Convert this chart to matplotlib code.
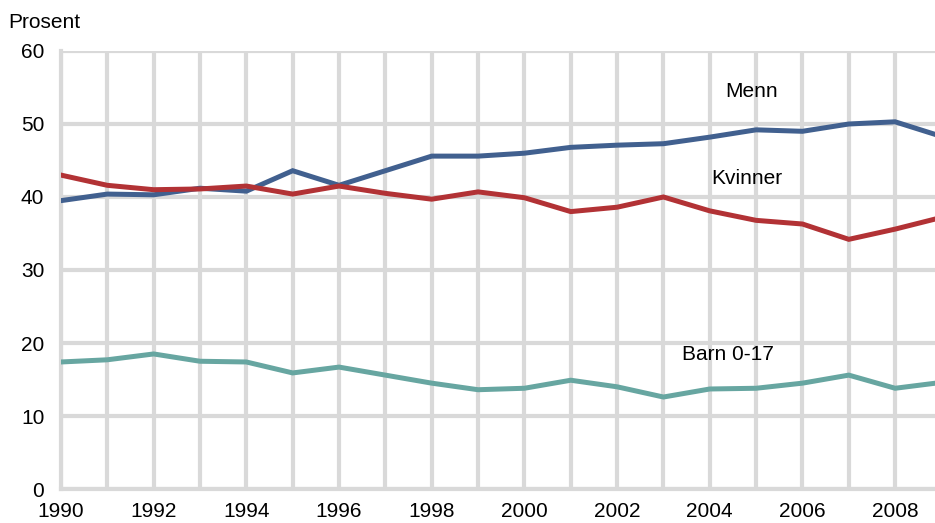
"""
Andel i lavinntektsgruppe: menn, kvinner og barn 1990-2009
"""

import matplotlib.pyplot as plt
import numpy as np

plt.rcParams["font.family"] = ["Liberation Sans", "DejaVu Sans"]

# * Data
years = list(range(1990, 2010))
menn = [39.5, 40.4, 40.3, 41.2, 40.8, 43.6, 41.6, 43.6, 45.6, 45.6,
        46.0, 46.8, 47.1, 47.3, 48.2, 49.2, 49.0, 50.0, 50.3, 48.3]
kvinner = [43.0, 41.6, 41.0, 41.1, 41.5, 40.4, 41.5, 40.5, 39.7, 40.7,
           39.9, 38.0, 38.6, 40.0, 38.1, 36.8, 36.3, 34.2, 35.6, 37.2]
barn = [17.4, 17.7, 18.5, 17.5, 17.4, 15.9, 16.7, 15.6, 14.5, 13.6,
        13.8, 14.9, 14.0, 12.6, 13.7, 13.8, 14.5, 15.6, 13.8, 14.6]
series_labels = ["Menn", "Kvinner", "Barn 0-17"]
y_ticks = [0, 10, 20, 30, 40, 50, 60]

# * Styling
COLORS = ["#41608f", "#b23235", "#67a6a1"]
GRID = "#d9d9d9"
FS = 15

fig = plt.figure(figsize=(9.35, 5.23), dpi=100)
ax = fig.add_axes([0.0652, 0.065, 0.9348, 0.8375])

for values, color in zip([menn, kvinner, barn], COLORS):
    ax.plot(years, values, color=color, lw=3.6, solid_joinstyle="miter", zorder=3)

ax.set_xlim(1990, 2008.86)
ax.set_ylim(0, 60)
ax.set_xticks(np.arange(1990, 2009, 2))
ax.set_xticks(np.arange(1991, 2009, 2), minor=True)
ax.set_yticks(y_ticks)
ax.grid(True, which="both", color=GRID, lw=3, zorder=1)
ax.tick_params(which="both", length=0, labelsize=FS)
ax.tick_params(axis="y", pad=12)
ax.tick_params(axis="x", pad=9)
for side, spine in ax.spines.items():
    if side in ("left", "bottom"):
        spine.set_color(GRID)
        spine.set_linewidth(3)
    else:
        spine.set_visible(False)
ax.set_axisbelow(True)

# * Line labels
label_pos = [(2004.9, 54.4), (2004.8, 42.6), (2004.4, 18.4)]
for text, (lx, ly) in zip(series_labels, label_pos):
    ax.text(lx, ly, text, fontsize=FS, ha="center", va="center")

fig.text(0.009, 0.957, "Prosent", fontsize=FS, ha="left", va="center")

fig.savefig("out.png", dpi=100)
